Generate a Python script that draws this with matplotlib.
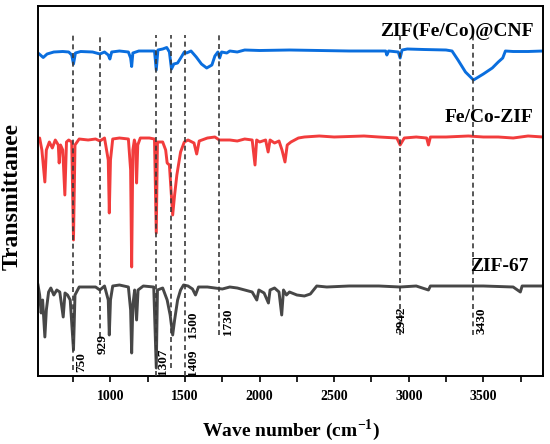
import matplotlib
matplotlib.use("Agg")
import matplotlib.pyplot as plt
import numpy as np

plt.rcParams['font.family'] = ['Liberation Serif', 'DejaVu Serif']
plt.rcParams['font.weight'] = 'bold'
plt.rcParams['mathtext.fontset'] = 'custom'
plt.rcParams['mathtext.rm'] = 'Liberation Serif:bold'
plt.rcParams['mathtext.bf'] = 'Liberation Serif:bold'

# ---- data (wavenumber, transmittance in arbitrary offset units) ----
cnf_wn = [514, 530, 549, 575, 620, 680, 720, 740, 752, 765, 800, 880, 929, 960, 985, 996, 1008,
          1060, 1120, 1135, 1142, 1150, 1190, 1260, 1295, 1307, 1318, 1350, 1377, 1395, 1409, 1425,
          1450, 1475, 1495, 1510, 1540, 1575, 1610, 1645, 1680, 1700, 1720, 1732, 1745, 1780, 1800,
          1850, 1900, 2000, 2200, 2400, 2600, 2800, 2845, 2853, 2865, 2930, 2942, 2955, 2990, 3100,
          3250, 3290, 3330, 3380, 3434, 3500, 3560, 3600, 3630, 3648, 3700, 3800, 3900]
cnf_py = [53, 55, 57.5, 54, 52, 51.5, 52, 55, 64, 53, 51.5, 52, 54, 52, 55, 59, 52,
          51, 52, 58, 66.5, 53, 51, 51, 51, 70, 50, 49, 47.5, 52, 69, 64,
          63, 57, 52, 53, 51, 57, 64, 68, 65, 56, 52, 58, 52, 53, 51,
          52, 50, 50.5, 50, 50.5, 51, 51, 51, 55, 51, 52, 58, 50, 49, 49.5,
          50, 51, 60, 72, 80, 74, 68, 62, 58, 51, 51.5, 51.5, 51]

fezif_wn = [514, 525, 540, 560, 570, 590, 610, 630, 650, 656, 665, 680, 694, 705, 720, 740, 752,
            762, 790, 850, 900, 929, 960, 985, 992, 1000, 1015, 1060, 1120, 1135, 1142, 1150, 1160,
            1168, 1175, 1183, 1200, 1260, 1295, 1307, 1315, 1350, 1370, 1380, 1395, 1417, 1430,
            1445, 1470, 1495, 1520, 1560, 1578, 1595, 1650, 1700, 1730, 1800, 1850, 1900, 1950,
            1969, 1980, 2000, 2040, 2057, 2070, 2100, 2130, 2150, 2170, 2185, 2210, 2260, 2300,
            2400, 2500, 2600, 2700, 2800, 2920, 2942, 2970, 3050, 3120, 3132, 3145, 3250, 3400,
            3500, 3600, 3700, 3800, 3900]
fezif_py = [140, 138, 150, 182, 150, 142, 148, 140, 145, 163, 145, 150, 195, 142, 140, 142, 240,
            145, 139, 140, 139, 141, 138, 160, 213, 160, 139, 138, 139, 170, 267, 150, 140,
            145, 183, 145, 138, 138, 139, 233, 142, 142, 150, 163, 165, 215, 195,
            175, 152, 142, 140, 143, 154, 141, 138, 137, 140, 140, 141, 139, 140,
            165, 140, 142, 140, 152, 140, 143, 141, 150, 162, 145, 142, 138, 137,
            136, 137, 136.5, 136, 137, 138, 145, 138, 137, 138, 145, 137, 137, 136,
            137, 137, 138, 136, 137]

zif67_wn = [514, 525, 535, 545, 560, 570, 585, 600, 620, 640, 660, 683, 695, 712, 730, 752, 762,
            790, 850, 900, 929, 960, 985, 992, 1000, 1015, 1060, 1120, 1135, 1142, 1150, 1162,
            1175, 1185, 1220, 1290, 1307, 1315, 1350, 1380, 1400, 1417, 1430, 1450, 1470, 1490,
            1520, 1550, 1570, 1590, 1650, 1700, 1750, 1800, 1850, 1900, 1950, 1981, 1995, 2030,
            2059, 2070, 2100, 2130, 2148, 2160, 2180, 2200, 2250, 2300, 2340, 2383, 2450, 2600,
            2800, 2942, 3050, 3132, 3145, 3300, 3500, 3700, 3748, 3760, 3900]
zif67_py = [285, 295, 313, 300, 337, 310, 292, 288, 295, 290, 292, 317, 293, 295, 300, 350, 295,
            287, 287, 287, 290, 286, 300, 335, 300, 286, 285, 287, 310, 353, 305, 290,
            320, 290, 286, 287, 368, 290, 288, 300, 315, 335, 320, 300, 290, 285,
            286, 289, 295, 287, 287, 288, 289, 287, 288, 290, 292, 300, 290, 293,
            303, 290, 288, 292, 315, 290, 295, 292, 295, 296, 294, 286, 287, 286,
            286, 287, 286, 290, 286, 286, 286, 287, 292, 286, 286]

series_names = ['ZIF(Fe/Co)@CNF', 'Fe/Co-ZIF', 'ZIF-67']
series_colors = ['#0a6ede', '#f23c3c', '#474747']

peak_wn = [750, 929, 1307, 1409, 1500, 1730, 2942, 3430]
peak_labels = ['750', '929', '1307', '1409', '1500', '1730', '2942', '3430']

xticks = [1000, 1500, 2000, 2500, 3000, 3500]

# ---- layout (not data) ----
H = 376.0
def v(py):
    return H - np.asarray(py, dtype=float)

line_bottom = [6, 39, 0, 8, 0, 41, 41, 41]
label_xy = [(806, 13.5), (949, 32), (1349, 14.5), (1553, 13.5), (1553, 51),
            (1791, 54), (2953, 56), (3486, 55)]

fig = plt.figure(figsize=(5.5, 4.44), dpi=100)
ax = fig.add_axes([38/550, 68/444, 505/550, 370/444])

for wn, py, c in zip([cnf_wn, fezif_wn, zif67_wn], [cnf_py, fezif_py, zif67_py], series_colors):
    ax.plot(wn, v(py), color=c, lw=2.1, solid_joinstyle='round', zorder=2)

for w, b in zip(peak_wn, line_bottom):
    ax.plot([w, w], [b, 341], color='#3a3a3a', lw=1.2, ls=(0, (3, 2.2)), zorder=3)

for (x, y), t in zip(label_xy, peak_labels):
    ax.text(x, y, t, rotation=90, ha='center', va='center', fontsize=9.5,
            fontweight='bold', color='black', zorder=4)

ax.text(3835, v(31.7), series_names[0], ha='right', va='center', fontsize=14, fontweight='bold')
ax.text(3835, v(118), series_names[1], ha='right', va='center', fontsize=14, fontweight='bold')
ax.text(3801, v(266.7), series_names[2], ha='right', va='center', fontsize=14, fontweight='bold')

ax.set_xlim(514, 3900)
ax.set_ylim(0, 370)
ax.set_yticks([])
ax.set_xticks(xticks)
ax.set_xticklabels([str(t) for t in xticks], fontsize=10, fontweight='bold')
ax.set_xticks([750, 1250, 1750, 2250, 2750, 3250, 3750], minor=True)
ax.tick_params(axis='x', which='both', direction='out', length=4, width=1.2, pad=6)
for s in ax.spines.values():
    s.set_linewidth(1.4)

ax.set_xlabel(r'Wave number (cm$^{\mathbf{-1}}$)', fontsize=14, fontweight='bold', labelpad=10)
ax.set_ylabel('Transmittanee', fontsize=17, fontweight='bold')
ax.yaxis.set_label_coords(-0.030, 0.484)

fig.savefig('out.png', dpi=100)
